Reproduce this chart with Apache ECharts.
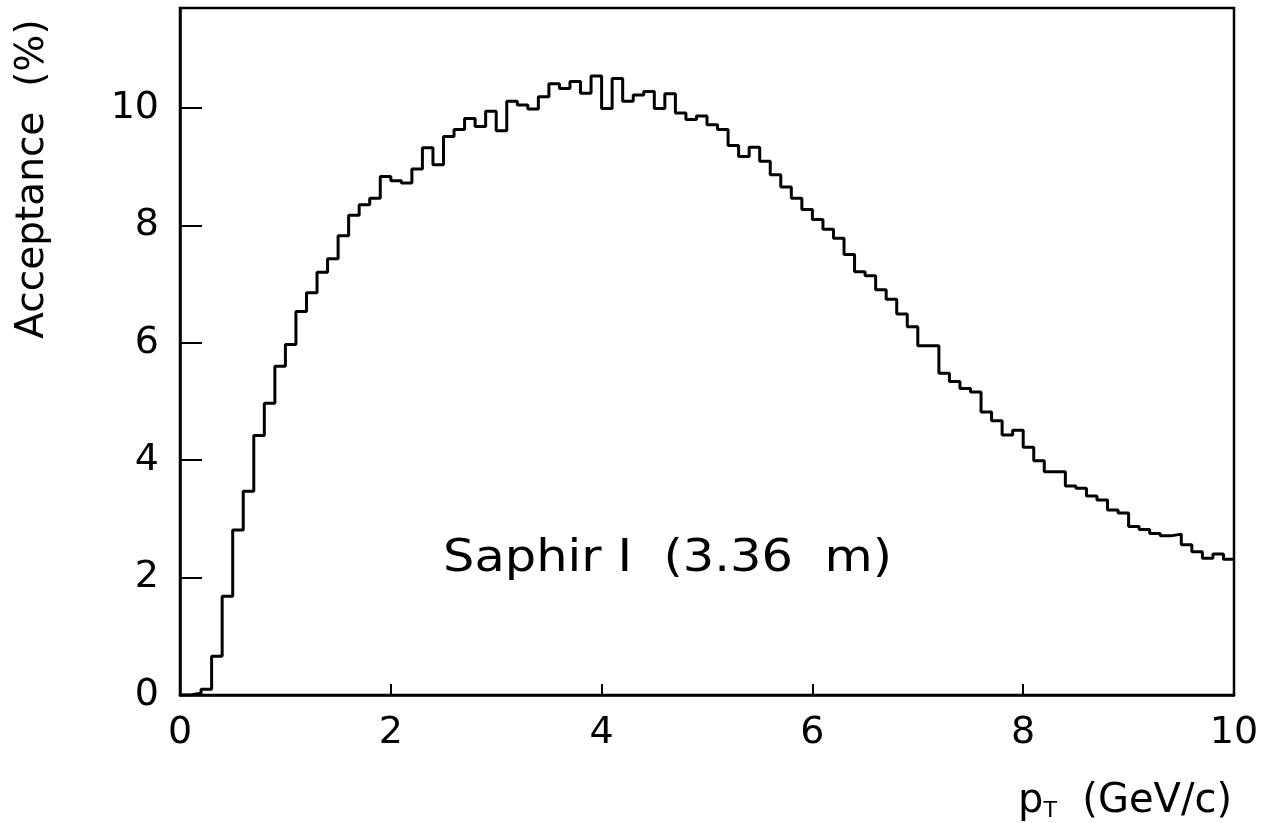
<!DOCTYPE html>
<html>
<head>
<meta charset="utf-8">
<script src="https://cdn.jsdelivr.net/npm/echarts@6/dist/echarts.min.js"></script>
<style>
html,body{margin:0;padding:0;background:#fff;}
#chart{width:1279px;height:823px;}
</style>
</head>
<body>
<div id="chart"></div>
<script>
// Histogram: acceptance (%) per 0.1 GeV/c bin of pT from 0 to 10
const binWidth = 0.1;
const acceptance = [
  0.00, 0.03, 0.10, 0.66, 1.68, 2.81, 3.47, 4.42, 4.97, 5.60,
  5.97, 6.53, 6.85, 7.20, 7.43, 7.82, 8.17, 8.35, 8.46, 8.83,
  8.76, 8.72, 8.96, 9.32, 9.03, 9.51, 9.63, 9.82, 9.68, 9.94,
  9.61, 10.11, 10.05, 9.98, 10.19, 10.41, 10.33, 10.45, 10.25, 10.54,
  9.99, 10.50, 10.11, 10.22, 10.28, 9.99, 10.24, 9.91, 9.80, 9.86,
  9.71, 9.63, 9.36, 9.17, 9.33, 9.09, 8.86, 8.65, 8.46, 8.27,
  8.10, 7.93, 7.78, 7.50, 7.21, 7.14, 6.90, 6.74, 6.49, 6.27,
  5.95, 5.95, 5.48, 5.34, 5.22, 5.16, 4.82, 4.67, 4.43, 4.51,
  4.22, 3.99, 3.80, 3.80, 3.56, 3.52, 3.39, 3.32, 3.15, 3.10,
  2.87, 2.82, 2.75, 2.71, 2.74, 2.56, 2.44, 2.33, 2.40, 2.31
];
const xTicks = [0, 2, 4, 6, 8, 10];
const yTicks = [0, 2, 4, 6, 8, 10];
const xTitle = 'p';
const xTitleSub = 'T';
const xTitleRest = '  (GeV/c)';
const yTitle = 'Acceptance  (%)';
const annotation = 'Saphir I  (3.36  m)';

// step points: left edge of each bin, plus closing right edge
const stepData = acceptance.map((v, i) => [+(i * binWidth).toFixed(2), v]);
stepData.push([+(acceptance.length * binWidth).toFixed(2), acceptance[acceptance.length - 1]]);

const FONT = 'DejaVu Sans';
const chart = echarts.init(document.getElementById('chart'), null, {renderer: 'canvas'});
chart.setOption({
  backgroundColor: '#fff',
  animation: false,
  grid: {
    left: 180, right: 45, top: 8, bottom: 128,
    containLabel: false, outerBoundsMode: 'none',
    show: true, borderColor: '#000', borderWidth: 2.5, backgroundColor: 'transparent'
  },
  xAxis: {
    type: 'value', min: 0, max: 10, interval: 2,
    splitLine: {show: false},
    axisLine: {show: true, onZero: false, lineStyle: {color: '#000', width: 2.5}},
    axisTick: {show: true, inside: true, length: 11, customValues: xTicks, lineStyle: {color: '#000', width: 2}},
    axisLabel: {show: true, customValues: xTicks, margin: 19, color: '#000', fontFamily: FONT, fontSize: 38}
  },
  yAxis: {
    type: 'value', min: 0, max: 11.7, interval: 2,
    splitLine: {show: false},
    axisLine: {show: true, onZero: false, lineStyle: {color: '#000', width: 2.5}},
    axisTick: {show: true, inside: true, length: 22, customValues: yTicks, lineStyle: {color: '#000', width: 2}},
    axisLabel: {show: true, customValues: yTicks, margin: 21, color: '#000', fontFamily: FONT, fontSize: 38}
  },
  series: [{
    type: 'line',
    step: 'end',
    data: stepData,
    showSymbol: false,
    symbol: 'none',
    lineStyle: {color: '#000', width: 3},
    z: 3
  }],
  graphic: [
    {
      type: 'text', x: 443, y: 559, scaleX: 1.1,
      style: {text: annotation, font: '45px "DejaVu Sans"', fill: '#000', align: 'left', verticalAlign: 'middle'}
    },
    {
      type: 'text', x: 33, y: 179, rotation: Math.PI / 2,
      style: {text: yTitle, font: '39px "DejaVu Sans"', fill: '#000', align: 'center', verticalAlign: 'middle'}
    },
    {
      type: 'text', x: 1232, y: 802,
      style: {
        text: '{a|' + xTitle + '}{b|' + xTitleSub + '}{a|' + xTitleRest + '}',
        align: 'right', verticalAlign: 'middle',
        rich: {
          a: {fontFamily: FONT, fontSize: 40, fill: '#000', color: '#000'},
          b: {fontFamily: FONT, fontSize: 22, fill: '#000', color: '#000', verticalAlign: 'bottom', padding: [0, 0, 0, 0]}
        }
      }
    }
  ]
});
</script>
</body>
</html>
